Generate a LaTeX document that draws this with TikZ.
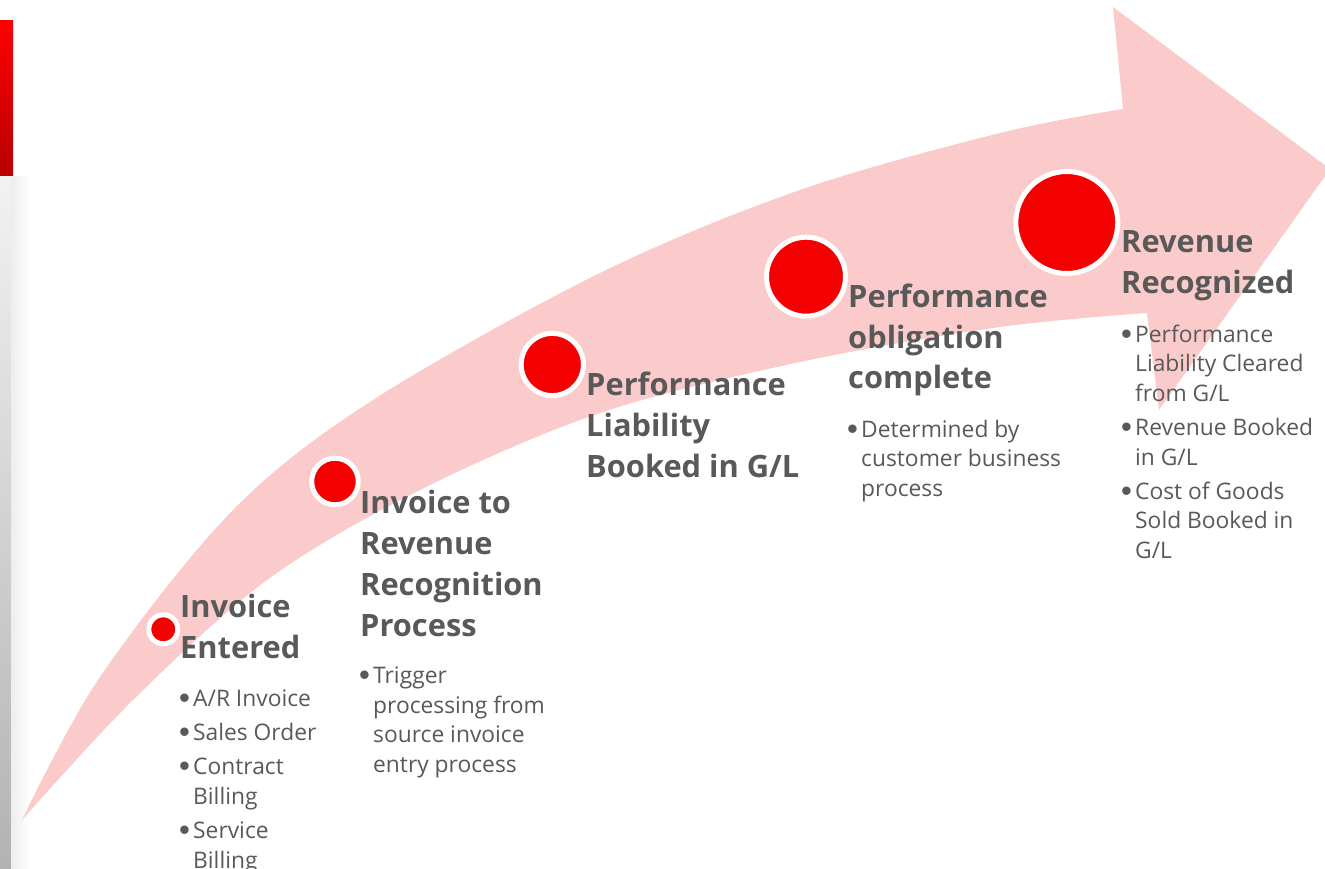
\documentclass[tikz,border=0pt]{standalone}
\usepackage{fontspec}
\setmainfont{Open Sans}
\newfontfamily\bulletfont{Liberation Sans}
\definecolor{arrowpink}{RGB}{251,203,203}
\definecolor{dotred}{RGB}{245,0,0}
\definecolor{txtgray}{RGB}{89,89,89}
\definecolor{barredtop}{RGB}{255,0,0}
\definecolor{barredbot}{RGB}{184,0,0}
\definecolor{bargraytop}{RGB}{242,242,242}
\definecolor{bargraybot}{RGB}{178,178,178}
\tikzset{
  head/.style={font=\fontsize{30.8}{41}\selectfont\bfseries, text=txtgray, anchor=base west, inner sep=0pt},
  body/.style={font=\fontsize{22.8}{29.7}\selectfont, text=txtgray, anchor=base west, inner sep=0pt},
  bul/.style={font=\bulletfont\fontsize{31}{31}\selectfont, text=txtgray, anchor=base west, inner sep=0pt, yshift=-2.5pt},
  dot/.style={circle, fill=dotred, draw=white, line width=5pt, inner sep=0pt}
}
\begin{document}
\begin{tikzpicture}[x=1pt,y=-1pt]
\useasboundingbox (0,0) rectangle (1325,869);
\clip (0,0) rectangle (1325,869);
\fill[white] (0,0) rectangle (1325,869);
% left bars
\shade[top color=barredtop, bottom color=barredbot] (0,21) rectangle (13,176);
\shade[top color=bargraytop, bottom color=bargraybot] (0,177) rectangle (11,869);
\shade[left color=black!7, right color=white] (11,177) rectangle (30,869);
% curved arrow
\fill[arrowpink]
  plot[smooth, tension=0.55] coordinates {(22,820) (100,677) (233,510) (373,400) (600,273) (800,190) (1000,133) (1123,109)}
  -- (1113,7) -- (1330,169) -- (1159,410) -- (1147,313)
  -- plot[smooth, tension=0.55] coordinates {(1147,313) (1000,327) (800,362) (600,413) (420,490) (267,580) (133,700) (22,820)}
  -- cycle;
% milestone dots
\node[dot, minimum size=29pt]  (c1) at (163.3,629.3) {};
\node[dot, minimum size=46.6pt] (c2) at (335,481.5) {};
\node[dot, minimum size=62.2pt] (c3) at (552.3,364.5) {};
\node[dot, minimum size=79pt]  (c4) at (806,276.7) {};
\node[dot, minimum size=102pt] (c5) at (1066.8,222.5) {};
% step 1
\node[head] (h1a) at (180,617) {Invoice};
\node[head] (h1b) at (180,658) {Entered};
\node[bul] (d1a) at (179,706) {•};
\node[body] (t1a) at (193,706) {A/R Invoice};
\node[bul] (d1b) at (179,740) {•};
\node[body] (t1b) at (193,740) {Sales Order};
\node[bul] (d1c) at (179,774) {•};
\node[body] (t1c) at (193,774) {Contract};
\node[body] (t1d) at (193,804) {Billing};
\node[bul] (d1e) at (179,838) {•};
\node[body] (t1e) at (193,838) {Service};
\node[body] (t1f) at (193,868) {Billing};
% step 2
\node[head] (h2a) at (360,513) {Invoice to};
\node[head] (h2b) at (360,554) {Revenue};
\node[head] (h2c) at (360,595) {Recognition};
\node[head] (h2d) at (360,636) {Process};
\node[bul] (d2a) at (359,683.3) {•};
\node[body] (t2a) at (373,683.3) {Trigger};
\node[body] (t2b) at (373,713) {processing from};
\node[body] (t2c) at (373,742.7) {source invoice};
\node[body] (t2d) at (373,772.4) {entry process};
% step 3
\node[head] (h3a) at (586,395.5) {Performance};
\node[head] (h3b) at (586,436.3) {Liability};
\node[head] (h3c) at (586,477) {Booked in G/L};
% step 4
\node[head] (h4a) at (848,307.5) {Performance};
\node[head] (h4b) at (848,348) {obligation};
\node[head] (h4c) at (848,388.5) {complete};
\node[bul] (d4a) at (847,437) {•};
\node[body] (t4a) at (861,437) {Determined by};
\node[body] (t4b) at (861,466.7) {customer business};
\node[body] (t4c) at (861,496.4) {process};
% step 5
\node[head] (h5a) at (1121,252.7) {Revenue};
\node[head] (h5b) at (1121,293.3) {Recognized};
\node[bul] (d5a) at (1121,342) {•};
\node[body] (t5a) at (1135,342) {Performance};
\node[body] (t5b) at (1135,371.7) {Liability Cleared};
\node[body] (t5c) at (1135,401.4) {from G/L};
\node[bul] (d5b) at (1121,435.4) {•};
\node[body] (t5d) at (1135,435.4) {Revenue Booked};
\node[body] (t5e) at (1135,465) {in G/L};
\node[bul] (d5c) at (1121,499) {•};
\node[body] (t5f) at (1135,499) {Cost of Goods};
\node[body] (t5g) at (1135,528.7) {Sold Booked in};
\node[body] (t5h) at (1135,558.4) {G/L};
\end{tikzpicture}
\end{document}
